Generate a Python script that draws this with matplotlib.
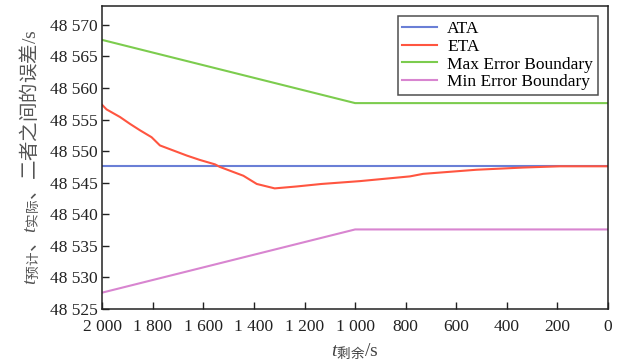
import matplotlib
matplotlib.use('Agg')
import matplotlib.pyplot as plt
from matplotlib.ticker import FuncFormatter

plt.rcParams['font.family'] = ['Liberation Serif', 'Noto Sans CJK SC']
plt.rcParams['mathtext.fontset'] = 'custom'
plt.rcParams['mathtext.rm'] = 'Noto Sans CJK SC'
plt.rcParams['mathtext.it'] = 'Liberation Serif:italic'
plt.rcParams['mathtext.sf'] = 'Liberation Serif'

# remaining time (s) and values
t_ata = [2000, 0]
ata = [48547.6, 48547.6]

t_eta = [2000, 1983, 1930, 1890, 1851, 1805, 1772, 1719, 1666, 1614, 1554, 1535,
         1482, 1442, 1389, 1318, 1232, 1133, 981, 783, 731, 520, 335, 190, 0]
eta = [48557.3, 48556.6, 48555.4, 48554.3, 48553.3, 48552.2, 48550.9, 48550.1,
       48549.3, 48548.6, 48547.9, 48547.5, 48546.7, 48546.1, 48544.8, 48544.1,
       48544.4, 48544.8, 48545.25, 48546.0, 48546.4, 48547.05, 48547.4, 48547.6,
       48547.6]

t_bound = [2000, 1000, 0]
max_bound = [48567.6, 48557.6, 48557.6]
min_bound = [48527.6, 48537.6, 48537.6]

fig = plt.figure(figsize=(6.21, 3.64), dpi=100)
ax = fig.add_axes([0.1647, 0.151, 0.8143, 0.833])

ax.plot(t_ata, ata, color='#6a7fd6', lw=1.5, label='ATA')
ax.plot(t_eta, eta, color='#ff5540', lw=1.5, label='ETA')
ax.plot(t_bound, max_bound, color='#7ccc4e', lw=1.5, label='Max Error Boundary')
ax.plot(t_bound, min_bound, color='#d885d0', lw=1.5, label='Min Error Boundary')

ax.set_xlim(2000, 0)
ax.set_ylim(48525, 48573)
ax.set_xticks(range(2000, -1, -200))
ax.set_yticks(range(48525, 48571, 5))

def fmt(v, pos):
    return f'{int(v):,}'.replace(',', ' ')

ax.xaxis.set_major_formatter(FuncFormatter(fmt))
ax.yaxis.set_major_formatter(FuncFormatter(fmt))
ax.tick_params(direction='in', length=5, width=1, labelsize=12.5,
               colors='#222222', top=False, right=False)
ax.tick_params(axis='x', pad=7)
for sp in ax.spines.values():
    sp.set_color('#222222')
    sp.set_linewidth(1.1)

ax.set_xlabel(r'$t_{\mathrm{剩余}}\mathsf{/s}$', fontsize=14, color='#444444', labelpad=5)
ax.set_ylabel(r'$t_{\mathrm{预计}}\mathrm{、}t_{\mathrm{实际}}\mathrm{、二者之间的误差}\mathsf{/s}$',
              fontsize=14, color='#555555', labelpad=6)

leg = ax.legend(loc='upper right', fontsize=12.5, frameon=True, fancybox=False,
                borderpad=0.25, handlelength=2.0, labelspacing=0.1,
                borderaxespad=0.6, handletextpad=0.6)
leg.get_frame().set_edgecolor('#222222')
leg.get_frame().set_linewidth(1.1)

fig.savefig('out.png', dpi=100)
